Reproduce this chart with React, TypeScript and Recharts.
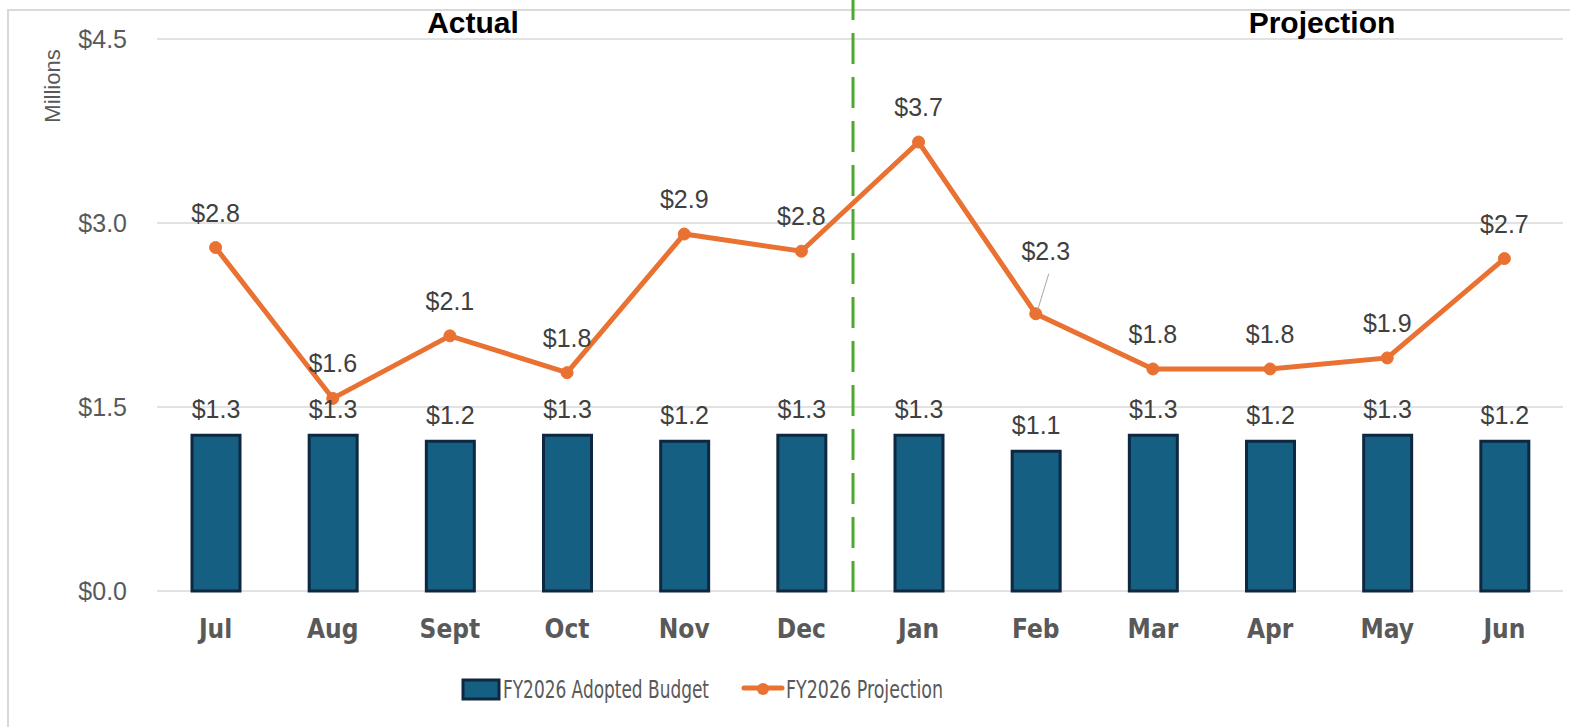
import {
  ComposedChart,
  Bar,
  Line,
  XAxis,
  YAxis,
  CartesianGrid,
  ReferenceLine,
  LabelList,
} from "recharts";

const months = ["Jul", "Aug", "Sept", "Oct", "Nov", "Dec", "Jan", "Feb", "Mar", "Apr", "May", "Jun"];
const adoptedBudget = [1.27, 1.27, 1.22, 1.27, 1.22, 1.27, 1.27, 1.14, 1.27, 1.22, 1.27, 1.22];
const projection = [2.8, 1.57, 2.08, 1.78, 2.91, 2.77, 3.66, 2.26, 1.81, 1.81, 1.9, 2.71];
const yTicks = [0, 1.5, 3, 4.5];
const lastActualMonth = "Dec";
const calloutMonth = "Feb";

const data = months.map((m, i) => ({ month: m, budget: adoptedBudget[i], projection: projection[i] }));

const NUM_FONT = "'Liberation Sans', Arial, sans-serif";
const NARROW_FONT = "'Liberation Sans Narrow', 'DejaVu Sans Condensed', 'Arial Narrow', sans-serif";
const BLUE = "#156082";
const NAVY = "#0e2841";
const ORANGE = "#e97132";
const GREEN = "#4ea72e";

const money = (v: number) => `$${v.toFixed(1)}`;

function BarValueLabel(props: any) {
  const { x, y, width, value } = props;
  return (
    <text x={x + width / 2} y={y - 17} textAnchor="middle" fontSize={25} fontFamily={NUM_FONT} fill="#404040">
      {money(value)}
    </text>
  );
}

function LineValueLabel(props: any) {
  const { x, y, value, index } = props;
  if (months[index] === calloutMonth) {
    // pulled-up label with a leader line, as in the source
    return (
      <g>
        <line x1={x + 13} y1={y - 40} x2={x + 2} y2={y - 4} stroke="#a6a6a6" strokeWidth={1} />
        <text x={x + 10} y={y - 54} textAnchor="middle" fontSize={25} fontFamily={NUM_FONT} fill="#404040">
          {money(value)}
        </text>
      </g>
    );
  }
  return (
    <text x={x} y={y - 26} textAnchor="middle" fontSize={25} fontFamily={NUM_FONT} fill="#404040">
      {money(value)}
    </text>
  );
}

function DividerLine(p: any) {
  const x = p.x1 - 7;
  const bottom = Math.max(p.y1, p.y2) + 1;
  return <line x1={x} y1={bottom} x2={x} y2={0} stroke={GREEN} strokeWidth={3} strokeDasharray="31 13" />;
}

export default function App() {
  return (
    <div style={{ position: "relative", width: 1570, height: 727, overflow: "hidden", background: "#fff" }}>
      <style>{`body{margin:0}`}</style>
      <div
        style={{
          position: "absolute",
          left: 7,
          top: 9,
          width: 1700,
          height: 900,
          border: "2px solid #d9d9d9",
        }}
      />
      <ComposedChart
        width={1570}
        height={727}
        data={data}
        margin={{ top: 39, right: 7, bottom: 76, left: 0 }}
        style={{ position: "absolute", left: 0, top: 0 }}
      >
        <CartesianGrid vertical={false} stroke="#d9d9d9" strokeWidth={1.5} />
        <XAxis
          dataKey="month"
          height={60}
          axisLine={false}
          tickLine={false}
          tickSize={0}
          tickMargin={29}
          tick={{ fontSize: 26, fontWeight: 700, fill: "#595959", fontFamily: NARROW_FONT }}
        />
        <YAxis
          width={157}
          domain={[0, 4.5]}
          ticks={yTicks}
          axisLine={false}
          tickLine={false}
          tickSize={0}
          tickMargin={30}
          tickFormatter={money}
          tick={{ fontSize: 25, fill: "#595959", fontFamily: NUM_FONT }}
          label={{
            content: () => (
              <text
                transform="translate(60, 86) rotate(-90)"
                textAnchor="middle"
                fontSize={22}
                fontFamily={NUM_FONT}
                fill="#595959"
              >
                Millions
              </text>
            ),
          }}
        />
        <Bar
          dataKey="budget"
          name="FY2026 Adopted Budget"
          fill={BLUE}
          stroke={NAVY}
          strokeWidth={3}
          barSize={48}
          isAnimationActive={false}
        >
          <LabelList dataKey="budget" content={BarValueLabel} />
        </Bar>
        <Line
          dataKey="projection"
          name="FY2026 Projection"
          type="linear"
          stroke={ORANGE}
          strokeWidth={5}
          dot={{ r: 6, fill: ORANGE, stroke: ORANGE, strokeWidth: 1 }}
          activeDot={false}
          isAnimationActive={false}
        >
          <LabelList dataKey="projection" content={LineValueLabel} />
        </Line>
        <ReferenceLine x={lastActualMonth} position="end" shape={DividerLine} ifOverflow="visible" />
      </ComposedChart>
      <svg width={1570} height={727} style={{ position: "absolute", left: 0, top: 0, pointerEvents: "none" }}>
        <text x={473} y={33} textAnchor="middle" fontSize={30} fontWeight={700} fontFamily={NUM_FONT} fill="#000">
          Actual
        </text>
        <text x={1322} y={33} textAnchor="middle" fontSize={30} fontWeight={700} fontFamily={NUM_FONT} fill="#000">
          Projection
        </text>
        <rect x={463} y={680} width={36} height={19} fill={BLUE} stroke={NAVY} strokeWidth={3} />
        <text
          x={503}
          y={698}
          fontSize={25}
          fontFamily={NARROW_FONT}
          fill="#595959"
          textLength={206}
          lengthAdjust="spacingAndGlyphs"
        >
          FY2026 Adopted Budget
        </text>
        <line x1={744} y1={688} x2={782} y2={688} stroke={ORANGE} strokeWidth={5} strokeLinecap="round" />
        <circle cx={763} cy={689} r={6} fill={ORANGE} />
        <text
          x={786}
          y={698}
          fontSize={25}
          fontFamily={NARROW_FONT}
          fill="#595959"
          textLength={157}
          lengthAdjust="spacingAndGlyphs"
        >
          FY2026 Projection
        </text>
      </svg>
    </div>
  );
}
